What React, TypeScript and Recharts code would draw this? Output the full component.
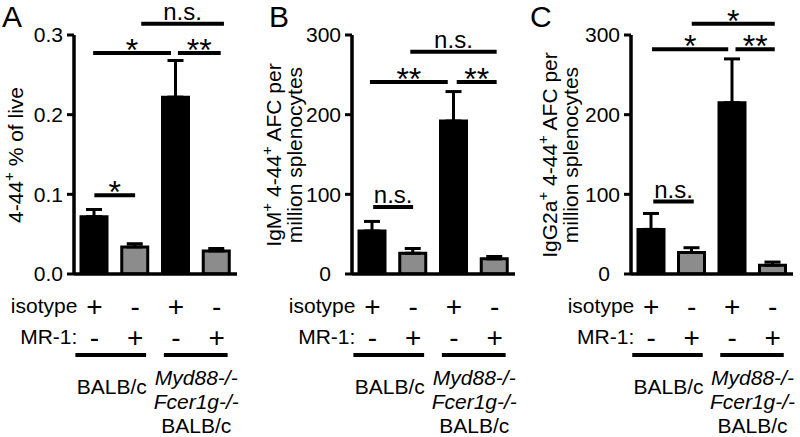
import type { JSX } from "react";

import { Bar, BarChart, Cell, ErrorBar, ReferenceLine, XAxis, YAxis } from "recharts";

// bar order: BALB/c iso, BALB/c MR-1, Myd88/Fcer1g iso, Myd88/Fcer1g MR-1
const positions = [0, 1, 2, 3];
const isotypeSigns = ["+", "-", "+", "-"];
const mr1Signs = ["-", "+", "-", "+"];
const barFills = ["#000000", "#8c8c8c", "#000000", "#8c8c8c"];
const strainWild = ["BALB/c"];
const strainKo = ["Myd88-/-", "Fcer1g-/-", "BALB/c"];

const liveValues = [0.072, 0.034, 0.222, 0.029];
const liveErrors = [0.009, 0.004, 0.046, 0.003];
const liveTicks = [0, 0.1, 0.2, 0.3];

const igmValues = [54, 26, 192, 19];
const igmErrors = [12, 6, 37, 3];

const igg2aValues = [56, 27, 215, 11];
const igg2aErrors = [20, 6, 55, 4];

const afcTicks = [0, 100, 200, 300];

type Sig = { from: number; to: number; level: number; text: string };

const liveSigs: Sig[] = [
	{ from: -0.03, to: 1.88, level: 0.2775, text: "*" },
	{ from: 2.05, to: 3.1, level: 0.2775, text: "**" },
	{ from: 1.15, to: 3.18, level: 0.314, text: "n.s." },
	{ from: 0.0, to: 1.0, level: 0.099, text: "*" },
];
const igmSigs: Sig[] = [
	{ from: -0.06, to: 1.85, level: 241, text: "**" },
	{ from: 2.07, to: 3.05, level: 241, text: "**" },
	{ from: 0.93, to: 3.05, level: 279, text: "n.s." },
	{ from: 0.02, to: 1.0, level: 84, text: "n.s." },
];
const igg2aSigs: Sig[] = [
	{ from: 0.02, to: 1.9, level: 282, text: "*" },
	{ from: 2.08, to: 3.05, level: 282, text: "**" },
	{ from: 1.0, to: 3.05, level: 314, text: "*" },
	{ from: 0.05, to: 1.05, level: 91, text: "n.s." },
];

const FONT = "'Liberation Sans', Arial, Helvetica, sans-serif";

function SigText(props: any): JSX.Element {
	const { viewBox, text } = props;
	const star = text.includes("*");
	return (
		<text fill="#000" fontSize={star ? 32 : 24} textAnchor="middle" x={viewBox.x + viewBox.width / 2} y={viewBox.y + (star ? 8 : -4)}>
			{text}
		</text>
	);
}

function ValueTick(props: any): JSX.Element {
	const { x, y, payload, digits, zeroShift } = props;
	const v = payload.value as number;
	return (
		<text dy="0.355em" fill="#000" fontSize={21} textAnchor="end" x={x - (v === 0 ? zeroShift : 0)} y={y}>
			{digits ? v.toFixed(digits) : v}
		</text>
	);
}

function GroupTick(props: any): JSX.Element {
	const { x, y, payload, band } = props;
	const i = payload.value as number;
	const c0 = x - i * band;
	return (
		<g fill="#000">
			<text fontSize={28} textAnchor="middle" x={x} y={y + 42}>{isotypeSigns[i]}</text>
			<text fontSize={28} textAnchor="middle" x={x} y={y + 73}>{mr1Signs[i]}</text>
			{i === 0 && (
				<>
					<text fontSize={21} textAnchor="end" x={c0 - 17} y={y + 39}>isotype</text>
					<text fontSize={21} textAnchor="end" x={c0 - 17} y={y + 70}>MR-1:</text>
					<line stroke="#000" strokeWidth={4} x1={c0 - 19} x2={c0 + band + 11} y1={y + 81} y2={y + 81} />
					{strainWild.map((s, k) => (
						<text fontSize={21} key={k} textAnchor="middle" x={c0 + band / 2 - 3} y={y + 120 + k * 24}>{s}</text>
					))}
				</>
			)}
			{i === 2 && (
				<>
					<line stroke="#000" strokeWidth={4} x1={x - 12} x2={x + band + 11} y1={y + 81} y2={y + 81} />
					{strainKo.map((s, k) => (
						<text fontSize={21} fontStyle={k < 2 ? "italic" : "normal"} key={k} textAnchor="middle" x={x + band / 2} y={y + 111 + k * 24}>{s}</text>
					))}
				</>
			)}
		</g>
	);
}

type PanelProps = {
	left: number;
	width: number;
	marginLeft: number;
	marginRight: number;
	axisWidth: number;
	values: number[];
	errors: number[];
	ticks: number[];
	digits: number;
	zeroShift: number;
	sigs: Sig[];
};

function Panel({ left, width, marginLeft, marginRight, axisWidth, values, errors, ticks, digits, zeroShift, sigs }: PanelProps): JSX.Element {
	const data = positions.map((p, i) => ({ err: [0, errors[i]], pos: p, value: values[i] }));
	const band = (width - marginLeft - marginRight - axisWidth) / positions.length;
	const top = ticks[ticks.length - 1];
	return (
		<div style={{ left, position: "absolute", top: 0 }}>
			<BarChart data={data} height={437} margin={{ bottom: 133, left: marginLeft, right: marginRight, top: 35 }} style={{ overflow: "visible" }} width={width}>
				<XAxis
					allowDataOverflow
					axisLine={{ stroke: "#000", strokeWidth: 3.5 }}
					dataKey="pos"
					domain={[-0.5, 3.5]}
					height={30}
					interval={0}
					tick={<GroupTick band={band} />}
					tickLine={false}
					tickMargin={0}
					tickSize={0}
					ticks={positions}
					type="number"
				/>
				<YAxis
					allowDataOverflow
					axisLine={{ stroke: "#000", strokeWidth: 3.5 }}
					domain={[0, top]}
					interval={0}
					tick={<ValueTick digits={digits} zeroShift={zeroShift} />}
					tickLine={{ stroke: "#000", strokeWidth: 3 }}
					tickMargin={4}
					tickSize={7}
					ticks={ticks}
					width={axisWidth}
				/>
				<Bar barSize={26} dataKey="value" isAnimationActive={false} stroke="#000" strokeWidth={3}>
					{data.map((d, i) => (
						<Cell fill={barFills[i]} key={d.pos} />
					))}
					<ErrorBar dataKey="err" direction="y" isAnimationActive={false} stroke="#000" strokeWidth={3} width={8} />
				</Bar>
				{sigs.map((s, k) => (
					<ReferenceLine
						ifOverflow="visible"
						key={k}
						label={<SigText text={s.text} />}
						segment={[
							{ x: s.from, y: s.level },
							{ x: s.to, y: s.level },
						]}
						stroke="#000"
						strokeWidth={4}
					/>
				))}
			</BarChart>
		</div>
	);
}

type Seg = { t: string; sup?: boolean };

function Title({ x, cy, segs }: { x: number; cy: number; segs: Seg[] }): JSX.Element {
	let prevSup = false;
	return (
		<text fill="#000" fontSize={21} textAnchor="middle" transform={`translate(${x},${cy}) rotate(-90)`}>
			{segs.map((s, k) => {
				const dy = s.sup ? -9 : prevSup ? 9 : 0;
				prevSup = !!s.sup;
				return (
					<tspan dy={dy} fontSize={s.sup ? 15 : 21} key={k}>
						{s.t}
					</tspan>
				);
			})}
		</text>
	);
}

export default function App(): JSX.Element {
	return (
		<div style={{ background: "#fff", fontFamily: FONT, height: 437, left: 0, overflow: "hidden", position: "absolute", top: 0, width: 800 }}>
			<Panel axisWidth={30} digits={1} errors={liveErrors} left={0} marginLeft={44} marginRight={13} sigs={liveSigs} ticks={liveTicks} values={liveValues} width={250} zeroShift={0} />
			<Panel axisWidth={38} digits={0} errors={igmErrors} left={262} marginLeft={52} marginRight={10} sigs={igmSigs} ticks={afcTicks} values={igmValues} width={263} zeroShift={10} />
			<Panel axisWidth={38} digits={0} errors={igg2aErrors} left={540} marginLeft={53} marginRight={7} sigs={igg2aSigs} ticks={afcTicks} values={igg2aValues} width={260} zeroShift={10} />
			<svg height={437} style={{ left: 0, pointerEvents: "none", position: "absolute", top: 0 }} width={800}>
				<text fill="#000" fontSize={30} x={2} y={27}>A</text>
				<text fill="#000" fontSize={30} x={269} y={27}>B</text>
				<text fill="#000" fontSize={30} x={530} y={27}>C</text>
				<Title cy={155} segs={[{ t: "4-44" }, { sup: true, t: "+" }, { t: " % of live" }]} x={23} />
				<Title cy={155} segs={[{ t: "IgM" }, { sup: true, t: "+" }, { t: " 4-44" }, { sup: true, t: "+" }, { t: " AFC per" }]} x={281} />
				<Title cy={155} segs={[{ t: "million splenocytes" }]} x={302} />
				<Title cy={155} segs={[{ t: "IgG2a" }, { sup: true, t: "+" }, { t: " 4-44" }, { sup: true, t: "+" }, { t: " AFC per" }]} x={557} />
				<Title cy={155} segs={[{ t: "million splenocytes" }]} x={578} />
			</svg>
		</div>
	);
}
